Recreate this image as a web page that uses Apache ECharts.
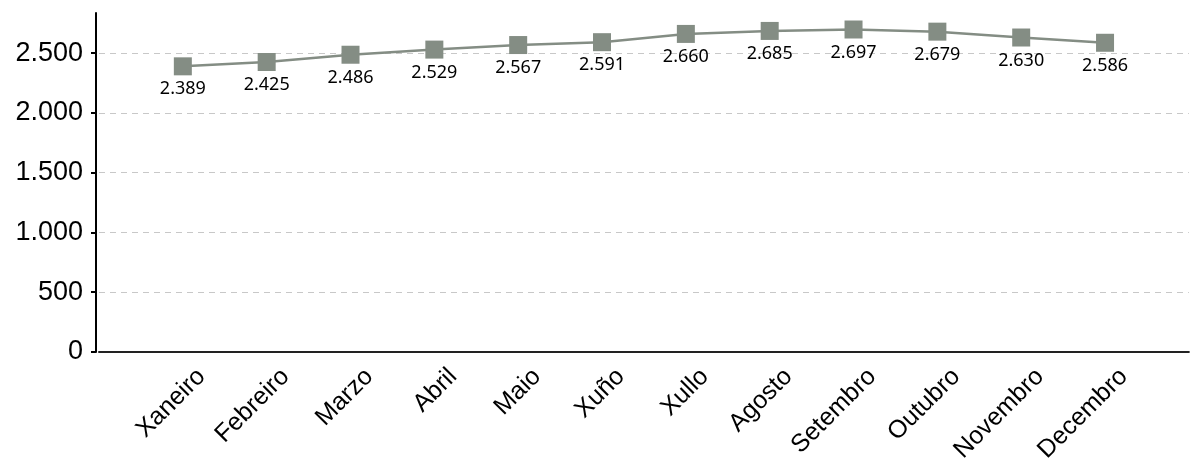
<!DOCTYPE html>
<html>
<head>
<meta charset="utf-8">
<script src="https://cdn.jsdelivr.net/npm/echarts@6/dist/echarts.min.js"></script>
<style>html,body{margin:0;padding:0;background:#fff}#c{width:1191px;height:466px}</style>
</head>
<body>
<div id="c"></div>
<script>
var categories = ['Xaneiro','Febreiro','Marzo','Abril','Maio','Xuño','Xullo','Agosto','Setembro','Outubro','Novembro','Decembro'];
var values = [2389, 2425, 2486, 2529, 2567, 2591, 2660, 2685, 2697, 2679, 2630, 2586];
var yTicks = [0, 500, 1000, 1500, 2000, 2500];

function fmt(v){ return String(v).replace(/\B(?=(\d{3})+(?!\d))/g, '.'); }

var chart = echarts.init(document.getElementById('c'), null, {renderer:'canvas'});
chart.setOption({
  animation:false,
  grid:{left:99, right:-6, top:13, bottom:114, containLabel:false},
  xAxis:{
    type:'value', min:-1, max:12, interval:1,
    axisLine:{show:true, onZero:false, lineStyle:{color:'#222', width:2}},
    axisTick:{show:false},
    splitLine:{show:false},
    axisLabel:{
      rotate:45, margin:2, verticalAlign:'top', padding:[14,0,0,0],
      fontFamily:'Liberation Sans, Arial', fontSize:25, color:'#000',
      formatter:function(v){ return (v>=0 && v<categories.length && Math.round(v)===v) ? categories[v] : ''; }
    }
  },
  yAxis:{
    type:'value', min:0, max:2835, interval:500, offset:3,
    axisLine:{show:true, onZero:false, lineStyle:{color:'#000', width:2}},
    axisTick:{show:true, length:5, customValues:yTicks, lineStyle:{color:'#000', width:2}},
    splitLine:{show:true, lineStyle:{color:'#c8c8c8', type:[6,5], width:1}},
    axisLabel:{
      margin:13, fontFamily:'Liberation Sans, Arial', fontSize:27, color:'#000',
      customValues:yTicks,
      formatter:function(v){ return fmt(v); }
    }
  },
  series:[{
    type:'line',
    data: values.map(function(v,i){ return [i, v]; }),
    symbol:'rect', symbolSize:18,
    itemStyle:{color:'#848d84'},
    lineStyle:{color:'#848d84', width:2.5},
    label:{
      show:true, position:'bottom', distance:5,
      fontFamily:'Noto Sans', fontSize:18, color:'#000',
      formatter:function(p){ return fmt(p.value[1]); }
    }
  }]
});
</script>
</body>
</html>
